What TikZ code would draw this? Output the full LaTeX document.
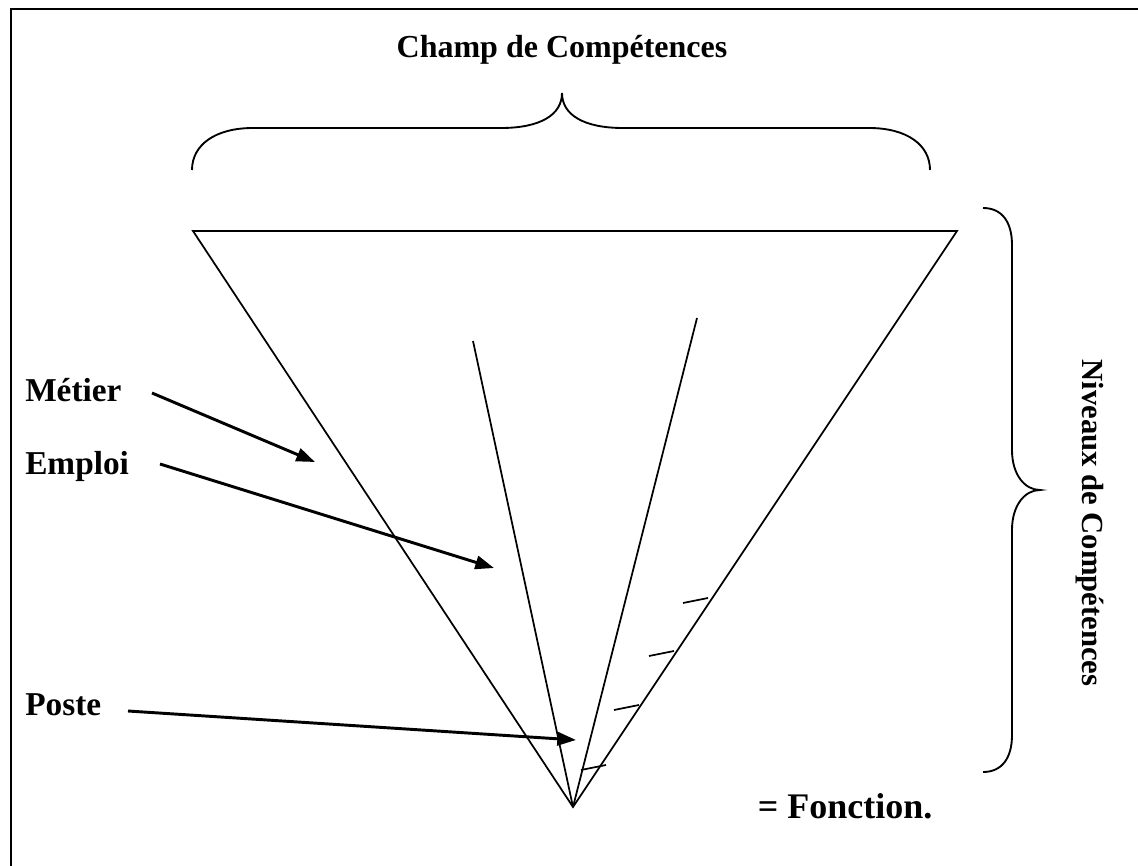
\documentclass[tikz,border=0pt]{standalone}
\usepackage{fontspec}
\setmainfont{Liberation Serif}
\usetikzlibrary{arrows.meta}

\tikzset{
  lbl/.style={font=\fontsize{25}{29}\selectfont\bfseries, inner sep=0pt, anchor=west},
  edge/.style={line width=1.3pt},
  pointer/.style={line width=2.2pt, -{Triangle[length=14pt,width=10pt]}},
  brace/.style={line width=1.4pt}
}

\begin{document}
\begin{tikzpicture}[x=0.75pt, y=-0.75pt]

  \useasboundingbox (0,0) rectangle (1138,866);

  % Frame.
  \draw[line width=1.5pt] (11,9) rectangle (1145,875);

  % Title and top brace.
  \node[lbl, anchor=center, font=\fontsize{24}{28}\selectfont\bfseries] (champ) at (562,50) {Champ de Compétences};
  \coordinate (tip) at (562,93);
  \draw[brace] (192,170) .. controls (192,145) and (215,128) .. (253,128) -- (501,128)
    .. controls (540,128) and (562,115) .. (tip)
    .. controls (562,115) and (584,128) .. (623,128) -- (869,128)
    .. controls (907,128) and (930,145) .. (930,170);

  % Funnel.
  \coordinate (tl) at (193,231);
  \coordinate (tr) at (957,231);
  \coordinate (apex) at (573,807);
  \coordinate (inl) at (473,341);
  \coordinate (inr) at (697,318);
  \draw[edge] (tl) -- (tr) -- (apex) -- cycle;
  \draw[edge] (inl) -- (apex);
  \draw[edge] (inr) -- (apex);

  % Hatches.
  \foreach \x/\y in {683/603, 649/656, 614/710, 581/770}
    \draw[edge] (\x,\y) -- ++(25,-5);

  % Right brace.
  \coordinate (rtip) at (1040,490);
  \draw[brace] (983,208) .. controls (1002,208) and (1012,222) .. (1012,245) -- (1012,450)
    .. controls (1012,475) and (1025,490) .. (rtip)
    .. controls (1025,490) and (1012,505) .. (1012,530) -- (1012,735)
    .. controls (1012,758) and (1002,772) .. (983,772);
  \node[lbl, anchor=center, rotate=-90, font=\fontsize{23}{27}\selectfont\bfseries] (niveaux) at (1090,523) {Niveaux de Compétences};

  % Labels and arrows.
  \node[lbl] (metier) at (25,390) {Métier};
  \node[lbl] (emploi) at (25,466) {Emploi};
  \node[lbl] (poste) at (25,705) {Poste};
  \coordinate (pmetier) at (315,462);
  \coordinate (pemploi) at (494,568);
  \coordinate (pposte) at (576,740);
  \draw[pointer] (152,393) -- (pmetier);
  \draw[pointer] (160,464) -- (pemploi);
  \draw[pointer] (128,711) -- (pposte);

  \node[lbl, anchor=center, font=\fontsize{27}{32}\selectfont\bfseries] (fonction) at (845,806) {= Fonction.};

\end{tikzpicture}
\end{document}
